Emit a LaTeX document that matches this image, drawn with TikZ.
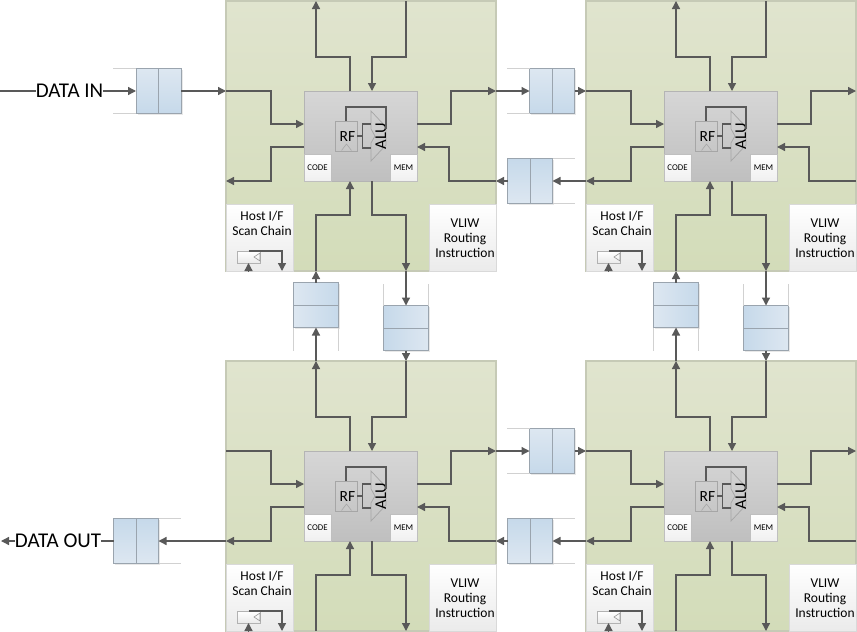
\documentclass[tikz,border=0pt]{standalone}
\usepackage{fontspec}
\setmainfont{Carlito}
\usetikzlibrary{arrows.meta,shadows}
\definecolor{tilet}{HTML}{E0E4CE}
\definecolor{tileb}{HTML}{D3DCB9}
\definecolor{tileln}{HTML}{C6CAB6}
\definecolor{corec}{HTML}{B4B4B4}
\definecolor{wirec}{HTML}{595959}
\definecolor{regl}{HTML}{DDE7F1}
\definecolor{regd}{HTML}{C6D9EA}
\definecolor{regln}{HTML}{9AA4AE}

\begin{document}
\begin{tikzpicture}[x=1pt, y=-1pt, node distance=56pt,
    tile/.style={rectangle, draw=tileln, line width=1.2pt, top color=tilet, bottom color=tileb, minimum size=270pt, inner sep=0pt, outer sep=0pt},
    core/.style={rectangle, draw=corec, line width=0.8pt, top color=black!16, bottom color=black!25, minimum width=113pt, minimum height=90pt, inner sep=0pt, outer sep=0pt},
    port/.style={rectangle, draw=black!25, line width=0.8pt, top color=white, bottom color=black!6, minimum width=27pt, minimum height=27pt, inner sep=0pt, outer sep=0pt, font=\fontsize{8.8}{10}\selectfont},
    infobox/.style={rectangle, draw=black!15, line width=0.8pt, top color=white, bottom color=black!8, minimum width=67pt, minimum height=67pt, inner sep=0pt, outer sep=0pt},
    plaintxt/.style={inner sep=0pt, align=center, font=\fontsize{13.5}{15}\selectfont},
    rfbox/.style={rectangle, draw=black!35, line width=0.8pt, minimum width=22pt, minimum height=30pt, inner sep=0pt, outer sep=0pt},
    scanbox/.style={rectangle, draw=black!30, line width=0.7pt, top color=white, bottom color=black!8, minimum width=23pt, minimum height=12pt, inner sep=0pt, outer sep=0pt},
    regbox/.style={rectangle, draw=regln, line width=0.8pt, minimum size=45pt, inner sep=0pt, outer sep=0pt, drop shadow={opacity=0.18, shadow xshift=1.5pt, shadow yshift=-1.5pt}},
    regE/.style={regbox, top color=regl, bottom color=regd},
    regW/.style={regbox, top color=regd, bottom color=regl},
    regN/.style={regbox, left color=regl, right color=regd},
    regS/.style={regbox, left color=regd, right color=regl},
    regline/.style={draw=regln, line width=0.8pt},
    stub/.style={draw=black!18, line width=0.8pt},
    wire/.style={draw=wirec, line width=1.3pt},
    link/.style={wire, -{Triangle[length=8pt,width=8pt]}},
    biglabel/.style={inner sep=0pt, font=\fontsize{21}{22}\selectfont}]

  \useasboundingbox (0,0) rectangle (857,632);
  \fill[white] (0,0) rectangle (857,632);

  % the four tiles
  \foreach \tx/\ty/\tn in {226/1/A, 586/1/B, 226/361/C, 586/361/D} {
    \begin{scope}[shift={(\tx,\ty)}, name prefix=\tn-]
      \node[tile] (tile) at (135,135) {};
      \node[core] (core) at (134.5,135) {};
      \node[port, anchor=south west] (code) at (core.south west) {CODE};
      \node[port, anchor=south east] (mem) at (core.south east) {MEM};
      \node[rfbox] (rf) at (120,135) {};
      \node[inner sep=0pt, font=\fontsize{15.5}{16}\selectfont] (rftxt) at (121.5,135.5) {RF};
      \node[infobox, anchor=south west] (host) at (tile.south west) {};
      \node[plaintxt] (hosttxt) at (36,222) {Host I/F\\Scan Chain};
      \node[infobox, anchor=south east] (vliw) at (tile.south east) {};
      \node[plaintxt] (vliwtxt) at (239,237.5) {VLIW\\Routing\\Instruction};
      \node[scanbox] (scan) at (22.5,256) {};

      \coordinate (wi) at (0,90);
      \coordinate (wo) at (0,180);
      \coordinate (eo) at (270,90);
      \coordinate (ei) at (270,180);
      \coordinate (no) at (90,0);
      \coordinate (ni) at (180,0);
      \coordinate (si) at (90,270);
      \coordinate (so) at (180,270);

      % ALU and register file
      \draw[draw=black!35, line width=0.7pt] (145,110) -- (160,126) -- (160,144) -- (145,160) -- (145,142) -- (149,135) -- (145,128) -- cycle;
      \node[rotate=90, inner sep=0pt, font=\fontsize{16.5}{18}\selectfont] (alu) at (155,135) {ALU};
      \draw[draw=black!35, line width=0.6pt] (115.5,149.5) -- (120.5,143) -- (125.5,149.5);
      \draw[draw=black!40, line width=0.6pt] (34,252) -- (28,256) -- (34,260) -- cycle;
      \draw[wire] (rf.north) -- (120,106) -- (160,106) -- (160,128);
      \draw[wire] (rf.east) -- (136.5,135);
      \draw[wire] (145,123) -- (136.5,123) -- (136.5,147) -- (145,147);

      % routing through the tile
      \draw[link] (wi) -- (45,90) -- (45,123) -- (core.west |- 45,123);
      \draw[link] (core.west |- 45,146) -- (45,146) -- (45,180) -- (wo);
      \draw[link] (core.east |- 225,123) -- (225,123) -- (225,90) -- (eo);
      \draw[link] (ei) -- (223,180) -- (223,146) -- (core.east |- 223,146);
      \draw[link] (124,90) -- (124,56) -- (90,56) -- (no);
      \draw[link] (ni) -- (180,56) -- (146,56) -- (146,90);
      \draw[link] (si) -- (90,214) -- (124,214) -- (124,180);
      \draw[link] (146,180) -- (146,214) -- (180,214) -- (so);

      % scan chain
      \draw[link] (22.5,270) -- (scan.south);
      \draw[link] (scan.north) -- (56,250) -- (56,270);
    \end{scope}
  }

  % registers between the tiles
  \node[regE, left of=A-wi, node distance=67.5pt] (inreg) {};
  \node[regE, right of=A-eo, node distance=56pt] (abreg) {};
  \node[regW, left of=B-wo, node distance=56pt] (bareg) {};
  \node[regE, right of=C-eo, node distance=56pt] (cdreg) {};
  \node[regW, left of=D-wo, node distance=56pt] (dcreg) {};
  \node[regW, left of=C-wo, node distance=90pt] (outreg) {};
  \node[regN, below of=A-si, node distance=34pt] (acreg) {};
  \node[regS, above of=C-ni, node distance=33pt] (careg) {};
  \node[regN, below of=B-si, node distance=34pt] (bdreg) {};
  \node[regS, above of=D-ni, node distance=33pt] (dbreg) {};

  \foreach \r in {inreg,abreg,bareg,cdreg,dcreg,outreg}
    \draw[regline] (\r.north) -- (\r.south);
  \foreach \r in {acreg,careg,bdreg,dbreg}
    \draw[regline] (\r.west) -- (\r.east);
  \foreach \r in {inreg,abreg,cdreg} {
    \draw[stub] (\r.north west) -- ++(-23,0);
    \draw[stub] (\r.south west) -- ++(-23,0);
  }
  \foreach \r in {bareg,dcreg,outreg} {
    \draw[stub] (\r.north east) -- ++(22,0);
    \draw[stub] (\r.south east) -- ++(22,0);
  }
  \foreach \r in {acreg,bdreg} {
    \draw[stub] (\r.south west) -- ++(0,23);
    \draw[stub] (\r.south east) -- ++(0,23);
  }
  \foreach \r in {careg,dbreg} {
    \draw[stub] (\r.north west) -- ++(0,-22);
    \draw[stub] (\r.north east) -- ++(0,-22);
  }

  \node[biglabel] (datain) at (69.5,91) {DATA IN};
  \node[biglabel] (dataout) at (58,541) {DATA OUT};
  \coordinate (instart) at (0,91);
  \coordinate (outend) at (1,541);

  \draw[wire] (instart) -- (datain);
  \draw[link] (datain) -- (inreg);
  \draw[link] (inreg) -- (A-wi);
  \draw[link] (A-eo) -- (abreg);
  \draw[link] (abreg) -- (B-wi);
  \draw[link] (B-wo) -- (bareg);
  \draw[link] (bareg) -- (A-ei);
  \draw[link] (C-eo) -- (cdreg);
  \draw[link] (cdreg) -- (D-wi);
  \draw[link] (D-wo) -- (dcreg);
  \draw[link] (dcreg) -- (C-ei);
  \draw[link] (C-wo) -- (outreg);
  \draw[wire] (outreg) -- (dataout);
  \draw[link] (dataout) -- (outend);

  \draw[link] (C-no) -- (acreg);
  \draw[link] (acreg) -- (A-si);
  \draw[link] (A-so) -- (careg);
  \draw[link] (careg) -- (C-ni);
  \draw[link] (D-no) -- (bdreg);
  \draw[link] (bdreg) -- (B-si);
  \draw[link] (B-so) -- (dbreg);
  \draw[link] (dbreg) -- (D-ni);

\end{tikzpicture}
\end{document}
